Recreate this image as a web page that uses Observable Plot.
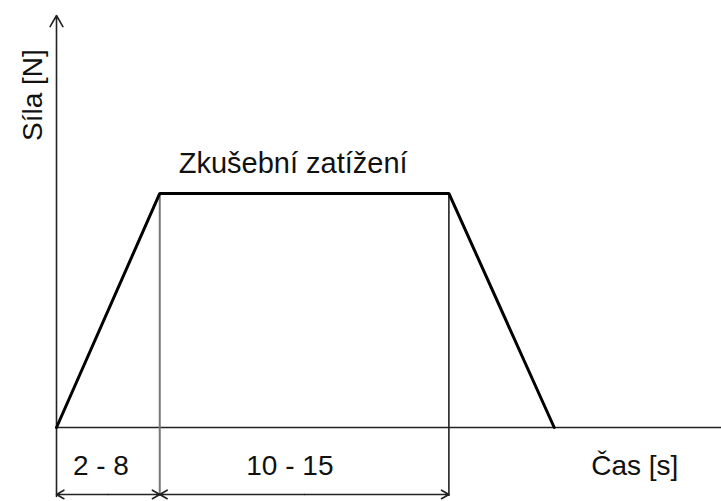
<!DOCTYPE html>
<html>
<head>
<meta charset="utf-8">
<script src="https://cdn.jsdelivr.net/npm/d3@7"></script>
<script src="https://cdn.jsdelivr.net/npm/@observablehq/plot@0.6"></script>
<style>
  html, body { margin: 0; padding: 0; background: #fff; }
  svg { display: block; }
</style>
</head>
<body>
<div id="chart"></div>
<script>
// Load profile (time in s, force in relative units)
const profileTime = [0, 5, 19, 24.1];
const profileForce = [0, 100, 100, 0];
// Interval annotations
const intervalStart = [0, 5];
const intervalEnd = [5, 19];
const intervalLabels = ["2 - 8", "10 - 15"];
const intervalLabelT = [2.15, 11.3];
// Axis texts
const xAxisLabel = "Čas [s]";
const yAxisLabel = "Síla [N]";
const plateauLabel = "Zkušební zatížení";
const xMax = 32.2;
const yMax = 176;
const yBelow = -29.5;
const labelY = -20.3;
const xLabelT = 28;

const profile = profileTime.map((t, i) => ({t, f: profileForce[i]}));
const intervals = intervalLabels.map((label, i) => ({a: intervalStart[i], b: intervalEnd[i], m: (intervalStart[i] + intervalEnd[i]) / 2, lt: intervalLabelT[i], label}));

const font = "'Liberation Sans', Arial, sans-serif";

const chart = Plot.plot({
  width: 721,
  height: 501,
  marginLeft: 56,
  marginRight: 0,
  marginTop: 15,
  marginBottom: 74,
  x: {domain: [0, xMax], axis: null},
  y: {domain: [0, yMax], axis: null},
  style: {fontFamily: font, background: "#fff", overflow: "visible"},
  marks: [
    // x axis
    Plot.ruleY([0], {x1: 0, x2: xMax, stroke: "#222", strokeWidth: 1.6}),
    // y axis with arrow
    Plot.arrow([0], {x1: 0, x2: 0, y1: yBelow, y2: yMax, stroke: "#222", strokeWidth: 1.6, headLength: 12, bend: 0}),
    // vertical guides
    Plot.ruleX([profileTime[1]], {y1: yBelow, y2: profileForce[1], stroke: "#777", strokeWidth: 2}),
    Plot.ruleX([profileTime[2]], {y1: yBelow, y2: profileForce[2], stroke: "#222", strokeWidth: 1.6}),
    // trapezoid profile
    Plot.line(profile, {x: "t", y: "f", stroke: "#000", strokeWidth: 3, strokeLinejoin: "miter"}),
    // double arrows (each drawn as two half-arrows from the middle outwards)
    Plot.arrow(intervals, {x1: "m", x2: "a", y1: yBelow + 0.9, y2: yBelow + 0.9, stroke: "#222", strokeWidth: 1.6, headLength: 8, bend: 0}),
    Plot.arrow(intervals, {x1: "m", x2: "b", y1: yBelow + 0.9, y2: yBelow + 0.9, stroke: "#222", strokeWidth: 1.6, headLength: 8, bend: 0}),
    // interval labels
    Plot.text(intervals, {x: "lt", y: labelY, text: "label", fontSize: 28, lineAnchor: "bottom", fill: "#111"}),
    // axis labels
    Plot.text([xAxisLabel], {x: xLabelT, y: labelY, text: d => d, fontSize: 28, lineAnchor: "bottom", fill: "#111"}),
    Plot.text([yAxisLabel], {x: 0, y: 142, dx: -15, text: d => d, fontSize: 28, rotate: -90, lineAnchor: "bottom", fill: "#111"}),
    Plot.text([plateauLabel], {x: profileTime[1], y: profileForce[1], dx: 19, dy: -20, text: d => d, fontSize: 29, textAnchor: "start", lineAnchor: "bottom", fill: "#111"})
  ]
});
document.getElementById("chart").appendChild(chart);
</script>
</body>
</html>
